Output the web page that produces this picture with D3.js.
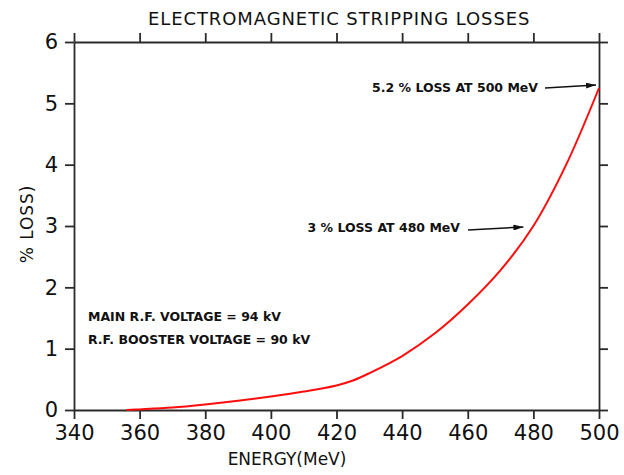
<!DOCTYPE html>
<html>
<head>
<title>Electromagnetic stripping losses</title>
<script src="https://d3js.org/d3.v7.min.js"></script>
</head>
<body style="margin:0;background:#fff">
<script>

// energy (MeV) and loss (%)
var energy = [356, 360, 370, 380, 390, 400, 410, 420, 425, 430, 440, 450, 460, 470, 480, 490, 500];
var loss   = [0, 0.01, 0.04, 0.09, 0.15, 0.22, 0.30, 0.40, 0.48, 0.60, 0.88, 1.25, 1.72, 2.28, 3.00, 4.00, 5.25];

var xTicks = [340, 360, 380, 400, 420, 440, 460, 480, 500];
var yTicks = [0, 1, 2, 3, 4, 5, 6];

var notes = [
	{text: "5.2 % LOSS AT 500 MeV", e: 500, v: 5.25},
	{text: "3 % LOSS AT 480 MeV", e: 480, v: 3.0}
];
var voltages = ["MAIN R.F. VOLTAGE = 94 kV", "R.F. BOOSTER VOLTAGE = 90 kV"];

var W = 624, H = 475;
var plotL = 74, plotR = 599, plotT = 42, plotB = 410;

var svg = d3.select("body").append("svg").attr("width", W).attr("height", H)
	.style("font-family", "'DejaVu Sans', sans-serif");

var x = d3.scaleLinear().domain([340, 500]).range([plotL, plotR]);
var y = d3.scaleLinear().domain([0, 6]).range([plotB, plotT]);

function styleAxis(g){
	g.selectAll("path, line").attr("stroke", "#2a2a2a").attr("stroke-width", 1.8);
	g.selectAll("text").attr("fill", "#111").style("font-family", "'DejaVu Sans', sans-serif");
}

svg.append("g").attr("transform", "translate(0," + plotB + ")")
	.call(d3.axisBottom(x).tickValues(xTicks).tickSize(9).tickSizeOuter(0).tickPadding(6))
	.call(styleAxis)
	.selectAll("text").style("font-size", "21px");

svg.append("g").attr("transform", "translate(0," + plotT + ")")
	.call(d3.axisTop(x).tickValues(xTicks).tickSize(9).tickSizeOuter(0).tickFormat(""))
	.call(styleAxis);

svg.append("g").attr("transform", "translate(" + plotL + ",0)")
	.call(d3.axisLeft(y).tickValues(yTicks).tickSize(9).tickSizeOuter(0).tickPadding(7).tickFormat(d3.format("d")))
	.call(styleAxis)
	.selectAll("text").style("font-size", "21px");

svg.append("g").attr("transform", "translate(" + plotR + ",0)")
	.call(d3.axisRight(y).tickValues(yTicks).tickSize(9).tickSizeOuter(0).tickFormat(""))
	.call(styleAxis);

// curve
var pts = energy.map(function(e, i){ return [e, loss[i]]; });
var line = d3.line()
	.x(function(d){ return x(d[0]); })
	.y(function(d){ return y(d[1]); })
	.curve(d3.curveCatmullRom.alpha(0.5));

svg.append("path").datum(pts)
	.attr("d", line)
	.attr("fill", "none")
	.attr("stroke", "#ff0d0d")
	.attr("stroke-width", 2);

// titles
svg.append("text").attr("x", 148).attr("y", 25)
	.style("font-size", "18px").style("letter-spacing", "0.9px").attr("fill", "#111")
	.text("ELECTROMAGNETIC STRIPPING LOSSES");

svg.append("text").attr("x", 287).attr("y", 465).attr("text-anchor", "middle")
	.style("font-size", "17px").attr("fill", "#111")
	.text("ENERGY(MeV)");

svg.append("text").attr("transform", "translate(33,224) rotate(-90)").attr("text-anchor", "middle")
	.style("font-size", "17px").style("letter-spacing", "0.9px").attr("fill", "#111")
	.text("% LOSS)");

// arrow head
svg.append("defs").append("marker").attr("id", "head")
	.attr("viewBox", "0 0 10 6").attr("refX", 10).attr("refY", 3)
	.attr("markerWidth", 10).attr("markerHeight", 6).attr("markerUnits", "userSpaceOnUse")
	.attr("orient", "auto")
	.append("path").attr("d", "M0,0 L10,3 L0,6 Z").attr("fill", "#111");

// annotations: text end, arrow start, arrow end offset from the curve point
var noteLayout = [
	{tx: 538, ty: 92, ax1: 545, ay1: 88, ax2: -3, ay2: -3},
	{tx: 460, ty: 232, ax1: 468, ay1: 230, ax2: -10, ay2: 1}
];
notes.forEach(function(n, i){
	var L = noteLayout[i];
	svg.append("text").attr("x", L.tx).attr("y", L.ty).attr("text-anchor", "end")
		.style("font-size", "12.5px").style("font-weight", "bold").attr("fill", "#111")
		.text(n.text);
	svg.append("line")
		.attr("x1", L.ax1).attr("y1", L.ay1)
		.attr("x2", x(n.e) + L.ax2).attr("y2", y(n.v) + L.ay2)
		.attr("stroke", "#111").attr("stroke-width", 1.5)
		.attr("marker-end", "url(#head)");
});

svg.selectAll(".volt").data(voltages).enter().append("text")
	.attr("class", "volt")
	.attr("x", 88).attr("y", function(d, i){ return 321 + i * 23; })
	.style("font-size", "12.5px").style("font-weight", "bold").attr("fill", "#111")
	.text(function(d){ return d; });

</script>
</body>
</html>
